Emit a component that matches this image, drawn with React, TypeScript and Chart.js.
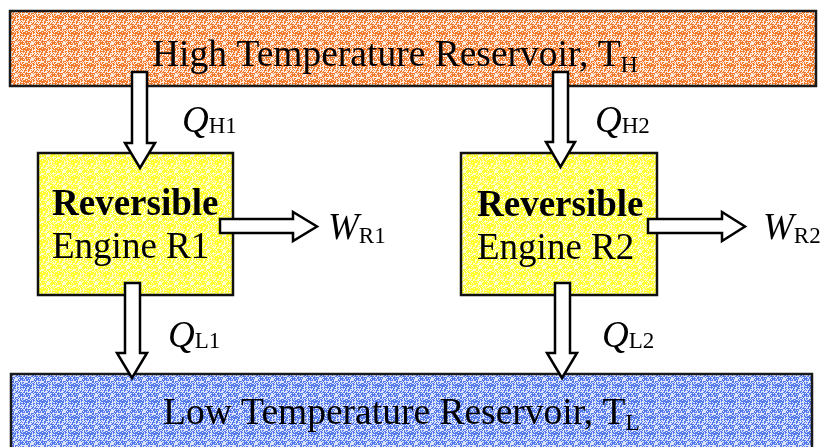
import React, { useEffect, useRef } from "react";
import { Chart, registerables } from "chart.js";

Chart.register(...registerables);

// ---- content ----
const reservoirNames = ["High Temperature Reservoir, T", "Low Temperature Reservoir, T"];
const reservoirSubs = ["H", "L"];
const engineTitles = ["Reversible", "Reversible"];
const engineNames = ["Engine R1", "Engine R2"];
const heatSymbols = ["Q", "Q", "Q", "Q"];
const heatSubs = ["H1", "L1", "H2", "L2"];
const workSymbols = ["W", "W"];
const workSubs = ["R1", "R2"];

// ---- diagram layout (diagram units) ----
const reservoirBoxes = [
  [10, 11, 816, 86],
  [11, 374, 812, 460],
];
const reservoirText = [
  [152, 66],
  [163, 424],
];
const engineBoxes = [
  [38, 153, 233, 295],
  [461, 153, 657, 295],
];
const engineText = [
  [52, 215, 258],
  [477, 216, 259],
];
// down arrows: shaft x0, x1, top y0, head base yb, head xl, xr, tip y
const downArrows = [
  [132, 147, 72, 143, 125, 155, 168],
  [125, 140, 283, 353, 117, 147, 378],
  [553, 568, 72, 142, 546, 575, 167],
  [555, 570, 283, 353, 547, 577, 378],
];
const heatText = [
  [182, 132],
  [168, 347],
  [595, 132],
  [602, 347],
];
// right arrows: shaft x0, xb(head base), y0, y1, head yt, yb, tip x
const rightArrows = [
  [220, 293, 219, 233, 212, 241, 317],
  [648, 722, 219, 233, 212, 241, 745],
];
const workText = [
  [328, 239],
  [763, 239],
];

const W = 822;
const H = 447;
const SERIF = "'Liberation Serif', 'Times New Roman', serif";

function makePattern(ctx: CanvasRenderingContext2D, base: string, speck: string, density: number) {
  const c = document.createElement("canvas");
  c.width = 16;
  c.height = 16;
  const p = c.getContext("2d")!;
  p.fillStyle = base;
  p.fillRect(0, 0, 16, 16);
  p.fillStyle = speck;
  for (let y = 0; y < 16; y++) {
    for (let x = 0; x < 16; x++) {
      const h = ((x * 73856093) ^ (y * 19349663) ^ ((x + y) * 83492791)) >>> 0;
      if (h % 100 < density) p.fillRect(x, y, 1, 1);
    }
  }
  return ctx.createPattern(c, "repeat")!;
}

const diagramPlugin = {
  id: "diagram",
  afterDatasetsDraw(chart: any) {
    const ctx: CanvasRenderingContext2D = chart.ctx;
    const sx = chart.scales.x;
    const sy = chart.scales.y;
    const X = (v: number) => sx.getPixelForValue(v);
    const Y = (v: number) => sy.getPixelForValue(v);

    const fills = [
      makePattern(ctx, "#F27A2C", "#FFEBDD", 45),
      makePattern(ctx, "#5479EA", "#DCE4FF", 45),
    ];
    const engineFill = makePattern(ctx, "#FFFF2A", "#FFFFD0", 40);

    ctx.save();
    // reservoirs
    reservoirBoxes.forEach((b, i) => {
      const x0 = X(b[0]), y0 = Y(b[1]), x1 = X(b[2]), y1 = Y(b[3]);
      ctx.fillStyle = fills[i];
      ctx.fillRect(x0, y0, x1 - x0, y1 - y0);
      ctx.lineWidth = 2.5;
      ctx.strokeStyle = "#1a1a1a";
      ctx.strokeRect(x0, y0, x1 - x0, y1 - y0);
    });
    // engines
    engineBoxes.forEach((b) => {
      const x0 = X(b[0]), y0 = Y(b[1]), x1 = X(b[2]), y1 = Y(b[3]);
      ctx.fillStyle = engineFill;
      ctx.fillRect(x0, y0, x1 - x0, y1 - y0);
      ctx.lineWidth = 2.5;
      ctx.strokeStyle = "#111";
      ctx.strokeRect(x0, y0, x1 - x0, y1 - y0);
    });

    // text helper
    const drawSub = (
      main: string, sub: string, x: number, y: number,
      mainFont: string, subFont: string, subDy: number
    ) => {
      ctx.fillStyle = "#000";
      ctx.textBaseline = "alphabetic";
      ctx.textAlign = "left";
      ctx.font = mainFont;
      ctx.fillText(main, x, y);
      const w = ctx.measureText(main).width;
      ctx.font = subFont;
      ctx.fillText(sub, x + w, y + subDy);
    };

    reservoirNames.forEach((t, i) => {
      drawSub(t, reservoirSubs[i], X(reservoirText[i][0]), Y(reservoirText[i][1]),
        `37.5px ${SERIF}`, `24px ${SERIF}`, 6);
    });

    engineTitles.forEach((t, i) => {
      ctx.fillStyle = "#000";
      ctx.textAlign = "left";
      ctx.textBaseline = "alphabetic";
      ctx.font = `bold 37px ${SERIF}`;
      ctx.fillText(t, X(engineText[i][0]), Y(engineText[i][1]));
      ctx.font = `37px ${SERIF}`;
      ctx.fillText(engineNames[i], X(engineText[i][0]), Y(engineText[i][2]));
    });

    // arrows
    ctx.lineWidth = 2.5;
    ctx.strokeStyle = "#000";
    ctx.lineJoin = "miter";
    downArrows.forEach((a) => {
      const [x0, x1, y0, yb, xl, xr, yt] = a;
      const xt = (xl + xr) / 2;
      ctx.beginPath();
      ctx.moveTo(X(x0), Y(y0));
      ctx.lineTo(X(x1), Y(y0));
      ctx.lineTo(X(x1), Y(yb));
      ctx.lineTo(X(xr), Y(yb));
      ctx.lineTo(X(xt), Y(yt));
      ctx.lineTo(X(xl), Y(yb));
      ctx.lineTo(X(x0), Y(yb));
      ctx.closePath();
      ctx.fillStyle = "#fff";
      ctx.fill();
      ctx.stroke();
    });
    rightArrows.forEach((a) => {
      const [x0, xb, y0, y1, yt, yb, xt] = a;
      const ym = (yt + yb) / 2;
      ctx.beginPath();
      ctx.moveTo(X(x0), Y(y0));
      ctx.lineTo(X(xb), Y(y0));
      ctx.lineTo(X(xb), Y(yt));
      ctx.lineTo(X(xt), Y(ym));
      ctx.lineTo(X(xb), Y(yb));
      ctx.lineTo(X(xb), Y(y1));
      ctx.lineTo(X(x0), Y(y1));
      ctx.closePath();
      ctx.fillStyle = "#fff";
      ctx.fill();
      ctx.stroke();
    });

    heatSymbols.forEach((q, i) => {
      drawSub(q, heatSubs[i], X(heatText[i][0]), Y(heatText[i][1]),
        `italic 37px ${SERIF}`, `23px ${SERIF}`, 1);
    });
    workSymbols.forEach((w, i) => {
      drawSub(w, workSubs[i], X(workText[i][0]), Y(workText[i][1]),
        `italic 37px ${SERIF}`, `23px ${SERIF}`, 4);
    });
    ctx.restore();
  },
};

export default function App() {
  const ref = useRef<HTMLCanvasElement | null>(null);
  useEffect(() => {
    const canvas = ref.current!;
    const chart = new Chart(canvas, {
      type: "scatter",
      data: {
        datasets: [
          {
            data: engineBoxes.map((b) => ({ x: (b[0] + b[2]) / 2, y: (b[1] + b[3]) / 2 })),
            pointRadius: 0,
            pointHoverRadius: 0,
          },
        ],
      },
      options: {
        animation: false,
        responsive: false,
        devicePixelRatio: 1,
        layout: { padding: 0 },
        events: [],
        plugins: {
          legend: { display: false },
          tooltip: { enabled: false },
          title: { display: false },
        },
        scales: {
          x: { type: "linear", min: 0, max: W, display: false },
          y: { type: "linear", min: 0, max: H, reverse: true, display: false },
        },
      },
      plugins: [diagramPlugin],
    });
    return () => chart.destroy();
  }, []);
  return (
    <div style={{ position: "absolute", left: 0, top: 0, width: W, height: H, background: "#fff" }}>
      <canvas ref={ref} width={W} height={H} style={{ display: "block" }} />
    </div>
  );
}
